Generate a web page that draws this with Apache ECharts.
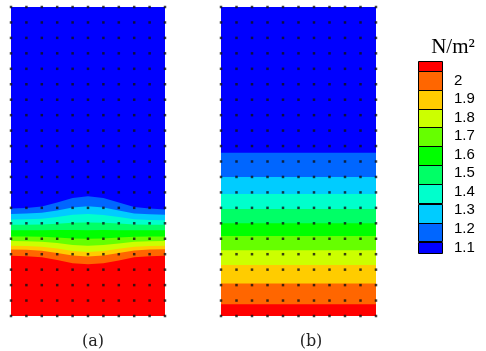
<!DOCTYPE html>
<html>
<head>
<meta charset="utf-8">
<script src="https://cdn.jsdelivr.net/npm/echarts@6/dist/echarts.min.js"></script>
<style>
  html, body { margin: 0; padding: 0; background: #fff; }
  #main { width: 486px; height: 351px; }
</style>
</head>
<body>
<div id="main"></div>
<script>
// mesh nodes (same for both panels)
const xNodes = [0, 1, 2, 3, 4, 5, 6, 7, 8, 9, 10];
const yNodes = [0, 1, 2, 3, 4, 5, 6, 7, 8, 9, 10, 11, 12, 13, 14, 15, 16, 17, 18, 19, 20];

// contour colours, low -> high
const levelColors = ['#0000FF', '#0066FF', '#00CCFF', '#00FFCC', '#00FF66', '#00FF00',
                     '#66FF00', '#CCFF00', '#FFCC00', '#FF6600', '#FF0000'];
// band boundaries (N/m2) between the colours above
const levels = [1.15, 1.25, 1.35, 1.45, 1.55, 1.65, 1.75, 1.85, 1.95, 2.05];

// panel (a): height of each boundary at every node column
const a115 = [6.95, 6.99, 7.08, 7.34, 7.64, 7.75, 7.63, 7.35, 7.05, 6.95, 6.9];
const a125 = [6.6, 6.63, 6.68, 6.83, 7.03, 7.1, 7.02, 6.83, 6.63, 6.58, 6.55];
const a135 = [6.25, 6.27, 6.3, 6.41, 6.55, 6.6, 6.54, 6.4, 6.26, 6.22, 6.2];
const a145 = [5.9, 5.91, 5.92, 5.97, 6.03, 6.05, 6.03, 5.98, 5.92, 5.91, 5.9];
const a155 = [5.55, 5.55, 5.55, 5.56, 5.56, 5.55, 5.56, 5.55, 5.55, 5.55, 5.55];
const a165 = [5.15, 5.14, 5.13, 5.08, 5.02, 5.0, 5.02, 5.08, 5.13, 5.14, 5.15];
const a175 = [4.85, 4.84, 4.8, 4.72, 4.6, 4.55, 4.6, 4.7, 4.8, 4.84, 4.85];
const a185 = [4.55, 4.53, 4.49, 4.37, 4.21, 4.15, 4.21, 4.35, 4.49, 4.53, 4.55];
const a195 = [4.3, 4.28, 4.22, 4.08, 3.91, 3.85, 3.92, 4.08, 4.24, 4.3, 4.32];
const a205 = [3.9, 3.87, 3.8, 3.62, 3.42, 3.35, 3.42, 3.6, 3.8, 3.87, 3.9];
const aBounds = [a115, a125, a135, a145, a155, a165, a175, a185, a195, a205];

// panel (b): flat bands, one height per boundary
const bBounds = [10.57, 9.0, 7.9, 6.93, 6.0, 5.17, 4.26, 3.3, 2.11, 0.76];

// colour bar boxes (value range of each box) and its labels
const cbEdges = [1.07, 1.13, 1.235, 1.335, 1.44, 1.545, 1.645, 1.75, 1.85, 1.95, 2.05, 2.105];
const cbLabels = [1.1, 1.2, 1.3, 1.4, 1.5, 1.6, 1.7, 1.8, 1.9, 2];

const chart = echarts.init(document.getElementById('main'));

function bandSeries(gridIdx, bounds) {
  const list = [];
  // top colour fills the whole panel first
  list.push({
    type: 'line', xAxisIndex: gridIdx, yAxisIndex: gridIdx,
    data: [[xNodes[0], 20], [xNodes[xNodes.length - 1], 20]],
    symbol: 'none', lineStyle: { width: 0 }, silent: true,
    areaStyle: { color: levelColors[0], opacity: 1, origin: 'start' }
  });
  bounds.forEach(function (b, i) {
    list.push({
      type: 'line', xAxisIndex: gridIdx, yAxisIndex: gridIdx,
      data: b.map(function (v, k) { return [xNodes[k], v]; }),
      symbol: 'none', lineStyle: { width: 0 }, silent: true,
      areaStyle: { color: levelColors[i + 1], opacity: 1, origin: 'start' }
    });
  });
  const dots = [];
  yNodes.forEach(function (y) { xNodes.forEach(function (x) { dots.push([x, y]); }); });
  list.push({
    type: 'scatter', xAxisIndex: gridIdx, yAxisIndex: gridIdx,
    data: dots, symbol: 'rect', symbolSize: 2.5, z: 5, silent: true,
    itemStyle: { color: '#111' }
  });
  return list;
}

const bFlat = bBounds.map(function (v) { return xNodes.map(function () { return v; }); });

const cbData = [];
for (let i = 0; i < levelColors.length; i++) cbData.push([0, cbEdges[i], cbEdges[i + 1]]);

const option = {
  animation: false,
  title: [
    { text: 'N/m²', left: 448, top: 32, textAlign: 'center',
      textStyle: { fontFamily: 'Liberation Serif', fontSize: 21, fontWeight: 'normal', color: '#000' } },
    { text: '(a)', left: 88, top: 329, textAlign: 'center',
      textStyle: { fontFamily: 'DejaVu Serif', fontSize: 16, fontWeight: 'normal', color: '#222' } },
    { text: '(b)', left: 306, top: 329, textAlign: 'center',
      textStyle: { fontFamily: 'DejaVu Serif', fontSize: 16, fontWeight: 'normal', color: '#222' } }
  ],
  grid: [
    { left: 11, top: 7, width: 154, height: 309 },
    { left: 221, top: 7, width: 155, height: 309 },
    { left: 418, top: 61, width: 24, height: 192 }
  ],
  xAxis: [
    { type: 'value', gridIndex: 0, min: 0, max: 10, show: false },
    { type: 'value', gridIndex: 1, min: 0, max: 10, show: false },
    { type: 'value', gridIndex: 2, min: 0, max: 1, show: false }
  ],
  yAxis: [
    { type: 'value', gridIndex: 0, min: 0, max: 20, show: false },
    { type: 'value', gridIndex: 1, min: 0, max: 20, show: false },
    { type: 'value', gridIndex: 2, min: cbEdges[0], max: cbEdges[cbEdges.length - 1],
      position: 'right', splitLine: { show: false },
      axisLine: { show: false }, axisTick: { show: false },
      axisLabel: { customValues: cbLabels, margin: 12,
                   fontFamily: "'Liberation Sans', Arial, sans-serif",
                   fontSize: 15, color: '#000' } }
  ],
  series: bandSeries(0, aBounds).concat(bandSeries(1, bFlat)).concat([{
    type: 'custom', xAxisIndex: 2, yAxisIndex: 2, data: cbData, silent: true,
    encode: { x: 0, y: [1, 2] },
    renderItem: function (params, api) {
      const p0 = api.coord([0, api.value(2)]);
      const p1 = api.coord([1, api.value(1)]);
      return {
        type: 'rect',
        shape: { x: Math.round(p0[0]) + 0.5, y: Math.round(p0[1]) + 0.5,
                 width: Math.round(p1[0] - p0[0]), height: Math.round(p1[1] - p0[1]) },
        style: { fill: levelColors[params.dataIndex], stroke: '#000', lineWidth: 1 }
      };
    }
  }])
};

chart.setOption(option);
</script>
</body>
</html>
